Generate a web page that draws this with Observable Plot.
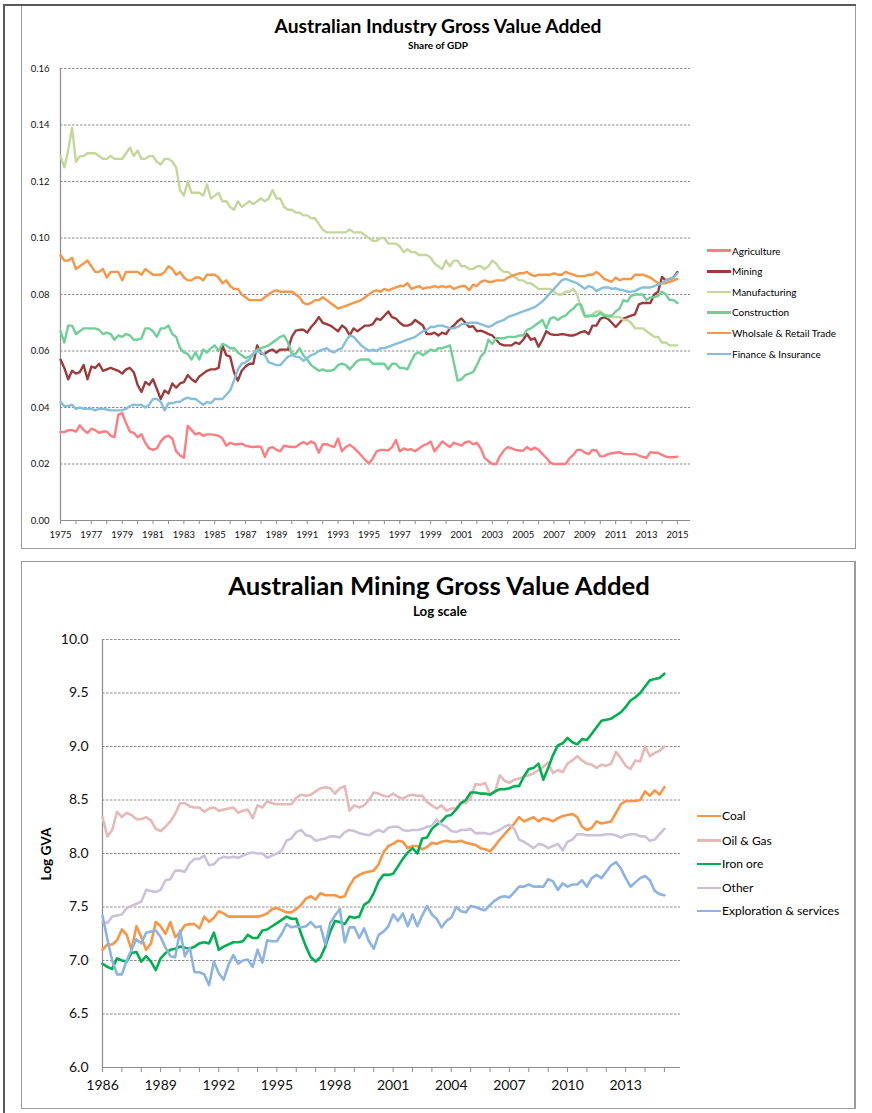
<!DOCTYPE html>
<html>
<head>
<meta charset="utf-8">
<script src="https://cdn.jsdelivr.net/npm/d3@7"></script>
<script src="https://cdn.jsdelivr.net/npm/@observablehq/plot@0.6"></script>
<style>
html,body{margin:0;padding:0;background:#fff;}
#page{position:relative;width:872px;height:1113px;overflow:hidden;font-family:Lato,"Open Sans",sans-serif;color:#000;}
.frame{position:absolute;border:1px solid #9a9a9a;box-sizing:border-box;}
.bar{position:absolute;background:#5a5a5a;}
.t{position:absolute;white-space:nowrap;font-weight:700;line-height:1;transform:translate(-50%,-50%);}
.sw{position:absolute;height:2.5px;}
.lb{position:absolute;white-space:nowrap;line-height:1;transform:translateY(-50%);color:#000;}
#page svg{position:absolute;}
</style>
</head>
<body>
<div id="page"></div>
<script>
// ---------------- Chart 1: industry share of GDP (quarterly, from 1975 Q1) ----------------
const topStartYear = 1975;
const topNames = ["Agriculture","Mining","Manufacturing","Construction","Wholsale & Retail Trade","Finance & Insurance"];
const topColors = ["#ff7c80","#9c3b3b","#c4d79b","#6fcf97","#f79646","#85bfd9"];
const topYTicks = [0,0.02,0.04,0.06,0.08,0.10,0.12,0.14,0.16];

const agriculture = [
 0.0313,0.0313,0.032,0.032, 0.0315,0.0337,0.032,0.031, 0.0325,0.032,0.031,0.0315, 0.0315,0.030,0.0295,0.0375,
 0.038,0.0345,0.0315,0.031, 0.0295,0.0305,0.0275,0.0255, 0.025,0.0255,0.028,0.0295, 0.030,0.029,0.0245,0.023,
 0.0222,0.0335,0.032,0.0305, 0.031,0.030,0.0305,0.0305, 0.0303,0.030,0.029,0.0265, 0.0275,0.027,0.027,0.0272,
 0.0265,0.0262,0.026,0.0262, 0.026,0.0225,0.0255,0.026, 0.025,0.0245,0.0265,0.0262, 0.026,0.026,0.027,0.0278,
 0.027,0.028,0.0272,0.024, 0.027,0.027,0.0265,0.026, 0.029,0.0245,0.026,0.0268, 0.0258,0.0245,0.023,0.0215,
 0.0202,0.022,0.0245,0.025, 0.025,0.0248,0.026,0.0285, 0.0245,0.0255,0.025,0.0252, 0.0245,0.0255,0.0265,0.027,
 0.028,0.0245,0.0262,0.028, 0.027,0.026,0.0275,0.027, 0.0265,0.0277,0.028,0.027, 0.0275,0.0255,0.0222,0.021,
 0.020,0.020,0.0228,0.0248, 0.026,0.0255,0.025,0.0248, 0.0247,0.026,0.025,0.0258, 0.025,0.0235,0.0222,0.0205,
 0.020,0.020,0.020,0.020, 0.022,0.0232,0.025,0.025, 0.024,0.0235,0.025,0.0248, 0.0227,0.0228,0.0235,0.0238,
 0.024,0.0242,0.0236,0.0235, 0.0235,0.0236,0.023,0.0225, 0.0222,0.0242,0.024,0.024, 0.0232,0.0226,0.0224,0.0224,
 0.0226
];
const mining = [
 0.057,0.054,0.050,0.053, 0.052,0.0525,0.055,0.050, 0.0545,0.054,0.0555,0.053, 0.0535,0.054,0.0535,0.053,
 0.052,0.0535,0.054,0.0525, 0.048,0.0455,0.049,0.048, 0.050,0.0465,0.043,0.046, 0.045,0.0485,0.047,0.0485,
 0.049,0.0515,0.050,0.049, 0.051,0.052,0.053,0.0535, 0.0535,0.054,0.062,0.0585, 0.058,0.0525,0.0495,0.053,
 0.0545,0.0555,0.0555,0.062, 0.059,0.059,0.060,0.0605, 0.0595,0.0605,0.0605,0.0605, 0.065,0.0672,0.0675,0.0675,
 0.0665,0.0685,0.070,0.072, 0.070,0.0695,0.069,0.068, 0.067,0.069,0.068,0.0655, 0.068,0.067,0.068,0.069,
 0.069,0.0695,0.0715,0.071, 0.0725,0.074,0.072,0.0715, 0.070,0.069,0.069,0.0695, 0.071,0.070,0.069,0.066,
 0.066,0.0665,0.0655,0.0665, 0.066,0.068,0.069,0.0705, 0.0715,0.070,0.0685,0.0688, 0.067,0.0672,0.0667,0.066,
 0.0655,0.064,0.0625,0.062, 0.062,0.062,0.063,0.0625, 0.064,0.066,0.064,0.0645, 0.0615,0.064,0.067,0.066,
 0.0657,0.0657,0.066,0.0658, 0.0655,0.0655,0.066,0.0667, 0.067,0.066,0.069,0.069, 0.0714,0.072,0.0714,0.070,
 0.0685,0.070,0.0715,0.072, 0.0725,0.073,0.0765,0.077, 0.077,0.077,0.080,0.081, 0.0862,0.085,0.0855,0.086,
 0.088
];
const manufacturing = [
 0.129,0.125,0.131,0.139, 0.127,0.129,0.129,0.130, 0.130,0.130,0.129,0.128, 0.128,0.129,0.128,0.128,
 0.128,0.130,0.132,0.129, 0.131,0.128,0.128,0.129, 0.129,0.127,0.126,0.128, 0.128,0.127,0.125,0.117,
 0.115,0.120,0.116,0.116, 0.116,0.115,0.119,0.114, 0.115,0.116,0.113,0.113, 0.111,0.110,0.113,0.111,
 0.112,0.113,0.112,0.113, 0.114,0.113,0.114,0.117, 0.114,0.114,0.111,0.110, 0.110,0.109,0.109,0.108,
 0.108,0.107,0.107,0.105, 0.103,0.102,0.102,0.102, 0.102,0.102,0.102,0.103, 0.102,0.102,0.102,0.101,
 0.100,0.099,0.099,0.100, 0.100,0.098,0.098,0.098, 0.097,0.095,0.096,0.095, 0.095,0.094,0.094,0.094,
 0.093,0.091,0.090,0.089, 0.092,0.090,0.092,0.092, 0.090,0.090,0.089,0.089, 0.090,0.090,0.089,0.090,
 0.092,0.091,0.089,0.088, 0.088,0.087,0.086,0.085, 0.085,0.084,0.084,0.083, 0.082,0.082,0.082,0.082,
 0.081,0.080,0.080,0.081, 0.081,0.082,0.080,0.075, 0.072,0.072,0.073,0.074, 0.074,0.073,0.072,0.072,
 0.072,0.072,0.071,0.071, 0.070,0.068,0.068,0.068, 0.067,0.066,0.065,0.065, 0.063,0.063,0.062,0.062,
 0.062
];
const construction = [
 0.067,0.063,0.069,0.069, 0.066,0.067,0.068,0.068, 0.068,0.068,0.0675,0.066, 0.0665,0.066,0.064,0.0655,
 0.065,0.066,0.0655,0.064, 0.064,0.0645,0.068,0.068, 0.067,0.065,0.068,0.068, 0.069,0.066,0.065,0.061,
 0.0595,0.059,0.057,0.0595, 0.057,0.0605,0.0595,0.061, 0.062,0.060,0.0625,0.062, 0.061,0.061,0.0595,0.0585,
 0.0575,0.058,0.059,0.0605, 0.061,0.0615,0.062,0.063, 0.064,0.065,0.0655,0.063, 0.059,0.059,0.061,0.0585,
 0.057,0.055,0.054,0.053, 0.0535,0.053,0.053,0.0535, 0.055,0.0555,0.055,0.0535, 0.055,0.0565,0.057,0.057,
 0.057,0.0555,0.0555,0.0555, 0.0555,0.0535,0.0555,0.0555, 0.054,0.054,0.0535,0.0565, 0.059,0.0595,0.0585,0.0595,
 0.0605,0.060,0.061,0.061, 0.0615,0.062,0.056,0.0495, 0.050,0.0515,0.052,0.0525, 0.055,0.058,0.0595,0.064,
 0.0625,0.0645,0.0645,0.0645, 0.065,0.065,0.065,0.0655, 0.0655,0.0675,0.068,0.069, 0.070,0.071,0.068,0.0715,
 0.072,0.071,0.072,0.0725, 0.074,0.075,0.0765,0.0765, 0.0725,0.0725,0.0725,0.0725, 0.0735,0.0725,0.0725,0.0725,
 0.074,0.075,0.078,0.0775, 0.0795,0.080,0.080,0.080, 0.078,0.079,0.079,0.0795, 0.081,0.080,0.078,0.078,
 0.077
];
const wholesaleRetail = [
 0.094,0.092,0.092,0.093, 0.089,0.090,0.091,0.092, 0.090,0.088,0.088,0.089, 0.086,0.088,0.088,0.088,
 0.085,0.088,0.088,0.088, 0.088,0.087,0.089,0.088, 0.087,0.087,0.087,0.088, 0.090,0.089,0.087,0.088,
 0.086,0.085,0.085,0.086, 0.086,0.085,0.087,0.087, 0.087,0.086,0.084,0.085, 0.083,0.082,0.082,0.080,
 0.079,0.078,0.078,0.078, 0.078,0.079,0.080,0.081, 0.0815,0.081,0.081,0.081, 0.081,0.080,0.079,0.077,
 0.0765,0.077,0.078,0.078, 0.079,0.078,0.077,0.076, 0.075,0.0755,0.076,0.0765, 0.077,0.0775,0.078,0.079,
 0.080,0.081,0.0815,0.081, 0.082,0.0815,0.082,0.0825, 0.083,0.083,0.084,0.082, 0.0825,0.083,0.082,0.0825,
 0.0825,0.083,0.0825,0.083, 0.0825,0.083,0.082,0.0825, 0.083,0.083,0.0815,0.0835, 0.083,0.0845,0.085,0.0845,
 0.0845,0.085,0.085,0.085, 0.086,0.0865,0.087,0.0875, 0.0875,0.088,0.087,0.0865, 0.087,0.087,0.087,0.087,
 0.0875,0.087,0.087,0.088, 0.0875,0.087,0.0865,0.0865, 0.0865,0.087,0.087,0.088, 0.087,0.0855,0.085,0.0845,
 0.086,0.085,0.0855,0.0855, 0.0855,0.087,0.087,0.087, 0.0865,0.086,0.085,0.084, 0.084,0.084,0.0845,0.085,
 0.0855
];
const financeInsurance = [
 0.042,0.0405,0.0405,0.041, 0.0395,0.040,0.0395,0.0395, 0.0395,0.039,0.0395,0.0395, 0.0393,0.039,0.039,0.039,
 0.039,0.0395,0.0405,0.041, 0.0408,0.041,0.040,0.041, 0.043,0.043,0.042,0.039, 0.0415,0.0415,0.042,0.042,
 0.043,0.0435,0.043,0.043, 0.042,0.041,0.042,0.0415, 0.043,0.043,0.043,0.0445, 0.046,0.0495,0.0535,0.0555,
 0.056,0.057,0.059,0.060, 0.0595,0.0585,0.056,0.0555, 0.055,0.055,0.0565,0.058, 0.0585,0.058,0.0578,0.0565,
 0.0575,0.0585,0.059,0.060, 0.0605,0.061,0.060,0.0595, 0.0605,0.061,0.0635,0.0655, 0.065,0.0635,0.062,0.061,
 0.060,0.0605,0.060,0.061, 0.061,0.0615,0.062,0.0625, 0.063,0.0635,0.064,0.0645, 0.065,0.066,0.067,0.0675,
 0.0685,0.0685,0.069,0.069, 0.0685,0.068,0.068,0.0685, 0.0695,0.0695,0.070,0.070, 0.070,0.0695,0.069,0.0685,
 0.069,0.070,0.0705,0.071, 0.072,0.0725,0.073,0.0735, 0.074,0.0745,0.075,0.0755, 0.0765,0.0775,0.079,0.0805,
 0.082,0.0835,0.085,0.0855, 0.085,0.0845,0.084,0.083, 0.082,0.083,0.0825,0.0812, 0.082,0.0825,0.0825,0.082,
 0.0822,0.0817,0.0815,0.081, 0.081,0.0812,0.082,0.0825, 0.0825,0.0825,0.083,0.0835, 0.084,0.085,0.0855,0.086,
 0.0875
];

// ---------------- Chart 2: mining GVA, log (quarterly, from 1986 Q1) ----------------
const mineStartYear = 1986;
const mineNames = ["Coal","Oil & Gas","Iron ore","Other","Exploration & services"];
const mineColors = ["#f79646","#e6b9b8","#00b050","#ccc1da","#8db3e2"];
const mineYTicks = [6.0,6.5,7.0,7.5,8.0,8.5,9.0,9.5,10.0];

const coal = [
 7.10,7.15,7.15,7.19, 7.29,7.24,7.10,7.32, 7.22,7.10,7.16,7.36, 7.32,7.25,7.36,7.22, 7.26,7.33,7.34,7.34,
 7.30,7.41,7.36,7.40, 7.46,7.44,7.41,7.41, 7.41,7.41,7.41,7.41, 7.41,7.42,7.44,7.48, 7.49,7.47,7.45,7.45,
 7.48,7.52,7.58,7.60, 7.57,7.63,7.61,7.61, 7.61,7.59,7.60,7.70, 7.77,7.80,7.82,7.83, 7.84,7.90,8.01,8.07,
 8.09,8.12,8.11,8.05, 8.07,8.07,8.04,8.06, 8.10,8.09,8.11,8.12, 8.11,8.11,8.12,8.10, 8.09,8.08,8.05,8.04,
 8.02,8.07,8.13,8.18, 8.23,8.28,8.34,8.30, 8.32,8.34,8.30,8.33, 8.32,8.30,8.33,8.35, 8.36,8.37,8.34,8.25,
 8.22,8.24,8.30,8.28, 8.29,8.30,8.38,8.46, 8.49,8.49,8.49,8.50, 8.58,8.54,8.59,8.55, 8.62
];
const oilGas = [
 8.34,8.16,8.22,8.39, 8.34,8.38,8.36,8.32, 8.32,8.34,8.31,8.23, 8.21,8.25,8.30,8.37, 8.47,8.47,8.44,8.43,
 8.43,8.39,8.42,8.43, 8.40,8.41,8.42,8.43, 8.38,8.40,8.41,8.33, 8.45,8.43,8.49,8.47, 8.46,8.46,8.46,8.46,
 8.52,8.55,8.54,8.55, 8.58,8.61,8.62,8.61, 8.56,8.61,8.63,8.40, 8.45,8.43,8.45,8.50, 8.57,8.56,8.54,8.53,
 8.56,8.53,8.51,8.54, 8.55,8.54,8.54,8.48, 8.45,8.42,8.45,8.40, 8.42,8.42,8.48,8.47, 8.52,8.65,8.64,8.66,
 8.55,8.57,8.73,8.68, 8.66,8.69,8.70,8.72, 8.73,8.75,8.78,8.81, 8.85,8.75,8.78,8.76, 8.84,8.87,8.91,8.87,
 8.84,8.83,8.80,8.83, 8.82,8.84,8.95,8.89, 8.82,8.79,8.87,8.86, 9.00,8.91,8.94,8.96, 9.00
];
const ironOre = [
 6.97,6.94,6.92,7.02, 7.00,6.99,7.07,7.08, 6.99,7.04,6.99,6.91, 7.02,7.07,7.10,7.11, 7.13,7.12,7.11,7.13,
 7.16,7.17,7.16,7.26, 7.10,7.13,7.15,7.17, 7.17,7.18,7.24,7.21, 7.21,7.28,7.29,7.32, 7.35,7.38,7.41,7.39,
 7.39,7.25,7.13,7.03, 6.99,7.03,7.13,7.27, 7.37,7.36,7.34,7.41, 7.40,7.41,7.52,7.55, 7.63,7.74,7.80,7.80,
 7.81,7.88,7.95,8.01, 8.05,8.00,8.14,8.15, 8.23,8.27,8.30,8.35, 8.36,8.41,8.47,8.50, 8.57,8.57,8.56,8.56,
 8.55,8.58,8.60,8.60, 8.61,8.63,8.63,8.72, 8.79,8.80,8.84,8.69, 8.80,8.92,9.01,9.03, 9.08,9.04,9.02,9.07,
 9.06,9.12,9.18,9.24, 9.25,9.26,9.29,9.32, 9.37,9.43,9.46,9.50, 9.56,9.62,9.63,9.64, 9.68
];
const otherMining = [
 7.36,7.35,7.41,7.42, 7.43,7.49,7.51,7.53, 7.55,7.66,7.65,7.64, 7.66,7.75,7.76,7.84, 7.84,7.83,7.91,7.95,
 7.95,7.98,7.89,7.90, 7.95,7.97,7.96,7.97, 7.96,7.98,8.00,8.01, 8.00,8.00,7.96,7.98, 8.00,8.03,8.12,8.14,
 8.20,8.22,8.17,8.16, 8.12,8.13,8.14,8.16, 8.16,8.15,8.20,8.22, 8.21,8.19,8.18,8.17, 8.20,8.22,8.20,8.24,
 8.25,8.25,8.22,8.21, 8.22,8.22,8.23,8.25, 8.26,8.32,8.27,8.25, 8.21,8.20,8.22,8.22, 8.23,8.19,8.19,8.19,
 8.18,8.20,8.22,8.25, 8.27,8.23,8.13,8.11, 8.08,8.05,8.09,8.08, 8.05,8.07,8.09,8.03, 8.11,8.13,8.18,8.18,
 8.17,8.17,8.17,8.17, 8.18,8.18,8.17,8.15, 8.17,8.18,8.18,8.16, 8.16,8.12,8.13,8.18, 8.23
];
const exploration = [
 7.42,7.20,7.00,6.87, 6.87,7.00,7.10,7.20, 7.16,7.26,7.27,7.28, 7.22,7.12,7.04,7.03, 7.28,7.04,7.12,6.89,
 6.89,6.87,6.77,6.99, 6.88,6.82,6.96,7.05, 6.97,7.00,7.01,6.94, 7.10,6.98,7.19,7.18, 7.18,7.25,7.34,7.31,
 7.32,7.31,7.32,7.36, 7.31,7.32,7.15,7.35, 7.42,7.48,7.17,7.31, 7.31,7.21,7.30,7.18, 7.11,7.24,7.27,7.32,
 7.43,7.37,7.44,7.32, 7.43,7.32,7.42,7.51, 7.43,7.39,7.31,7.37, 7.40,7.50,7.46,7.45, 7.51,7.50,7.48,7.47,
 7.52,7.56,7.59,7.60, 7.59,7.64,7.69,7.69, 7.71,7.69,7.69,7.69, 7.76,7.74,7.66,7.72, 7.69,7.71,7.71,7.75,
 7.69,7.77,7.80,7.77, 7.83,7.89,7.92,7.86, 7.77,7.69,7.73,7.77, 7.79,7.75,7.65,7.62, 7.61
];

// ---------------- build tidy tables ----------------
function tidy(names, arrays, start) {
  return names.flatMap((name, j) => arrays[j].map((v, i) => ({name, year: start + i / 4, value: v})));
}
const topData = tidy(topNames, [agriculture, mining, manufacturing, construction, wholesaleRetail, financeInsurance], topStartYear);
const mineData = tidy(mineNames, [coal, oilGas, ironOre, otherMining, exploration], mineStartYear);

const page = document.getElementById("page");
const GRID = "#8c8c8c";

// ---------------- chart 1 ----------------
const chart1 = Plot.plot({
  width: 700, height: 490,
  marginLeft: 60, marginRight: 10, marginTop: 8, marginBottom: 30,
  x: {domain: [1975, 2015.85], label: null},
  y: {domain: [0, 0.16], label: null},
  color: {domain: topNames, range: topColors},
  style: {fontFamily: "Lato, 'Open Sans', sans-serif", fontSize: "9.5px", color: "#111", background: "transparent", overflow: "visible"},
  marks: [
    Plot.ruleY(topYTicks.filter(d => d > 0), {stroke: GRID, strokeDasharray: "2.5,1.5", strokeWidth: 1}),
    Plot.ruleY([0], {stroke: GRID, strokeWidth: 1.2}),
    Plot.ruleX([1975], {stroke: GRID, strokeWidth: 1.2}),
    Plot.axisY({ticks: topYTicks, tickSize: 0, tickPadding: 11, tickFormat: d => d.toFixed(2), label: null}),
    Plot.axisX({ticks: d3.range(1975, 2016), tickSize: 4, tickPadding: 7, stroke: GRID,
      tickFormat: d => (d - 1975) % 2 === 0 ? String(d) : "", label: null}),
    Plot.line(topData, {x: "year", y: "value", z: "name", stroke: "name", strokeWidth: 2.4})
  ]
});
chart1.style.left = "0px"; chart1.style.top = "60px";
page.appendChild(chart1);

// ---------------- chart 2 ----------------
const chart2 = Plot.plot({
  width: 700, height: 480,
  marginLeft: 102, marginRight: 20, marginTop: 19, marginBottom: 33,
  x: {domain: [1986, 2015.83], label: null},
  y: {domain: [6, 10], label: null},
  color: {domain: mineNames, range: mineColors},
  style: {fontFamily: "Lato, 'Open Sans', sans-serif", fontSize: "14px", color: "#111", background: "transparent", overflow: "visible"},
  marks: [
    Plot.ruleY(mineYTicks.filter(d => d > 6), {stroke: GRID, strokeDasharray: "2.5,1.5", strokeWidth: 1}),
    Plot.ruleY([6], {stroke: GRID, strokeWidth: 1.2}),
    Plot.ruleX([1986], {stroke: GRID, strokeWidth: 1.2}),
    Plot.axisY({ticks: mineYTicks, tickSize: 0, tickPadding: 14, tickFormat: d => d.toFixed(1), label: null}),
    Plot.axisX({ticks: d3.range(1986, 2016), tickSize: 5, tickPadding: 8, stroke: GRID,
      tickFormat: d => (d - 1986) % 3 === 0 ? String(d) : "", label: null}),
    Plot.line(mineData, {x: "year", y: "value", z: "name", stroke: "name", strokeWidth: 2.6})
  ]
});
chart2.style.left = "0px"; chart2.style.top = "620px";
page.appendChild(chart2);

// ---------------- frames ----------------
function el(cls, css, text) {
  const d = document.createElement("div");
  d.className = cls;
  Object.assign(d.style, css);
  if (text != null) d.textContent = text;
  page.appendChild(d);
  return d;
}
el("frame", {left: "21px", top: "4px", width: "835px", height: "545px"});
el("frame", {left: "21px", top: "561px", width: "835px", height: "548px", borderRightWidth: "2px"});
el("bar", {left: "3px", top: "4px", width: "2px", height: "1109px"});
el("bar", {left: "3px", top: "4px", width: "853px", height: "1.5px"});

// ---------------- titles ----------------
function fitText(d, w) {
  const r = d.getBoundingClientRect().width;
  const fs = parseFloat(getComputedStyle(d).fontSize);
  d.style.fontSize = (fs * w / r) + "px";
}
fitText(el("t", {left: "438px", top: "26px", fontSize: "18px"}, "Australian Industry Gross Value Added"), 327);
fitText(el("t", {left: "438px", top: "45px", fontSize: "10px"}, "Share of GDP"), 60);
fitText(el("t", {left: "439px", top: "586px", fontSize: "24px"}, "Australian Mining Gross Value Added"), 422);
fitText(el("t", {left: "440px", top: "612px", fontSize: "13px"}, "Log scale"), 54);
const yl = el("t", {left: "47px", top: "854px", fontSize: "14px"}, "Log GVA");
fitText(yl, 53);
yl.style.transform = "translate(-50%,-50%) rotate(-90deg)";

// ---------------- legends ----------------
const legTopY = [250.5, 271.3, 291.8, 312.4, 333.2, 353.8];
topNames.forEach((n, i) => {
  el("sw", {left: "707px", width: "24px", top: (legTopY[i] - 1.25) + "px", background: topColors[i]});
  el("lb", {left: "732px", top: legTopY[i] + "px", fontSize: "10px"}, n);
});
const legMineY = [816, 840.5, 864, 887.8, 911];
mineNames.forEach((n, i) => {
  el("sw", {left: "697px", width: "24px", top: (legMineY[i] - 1.25) + "px", background: mineColors[i]});
  el("lb", {left: "722px", top: legMineY[i] + "px", fontSize: "12px"}, n);
});
</script>
</body>
</html>
